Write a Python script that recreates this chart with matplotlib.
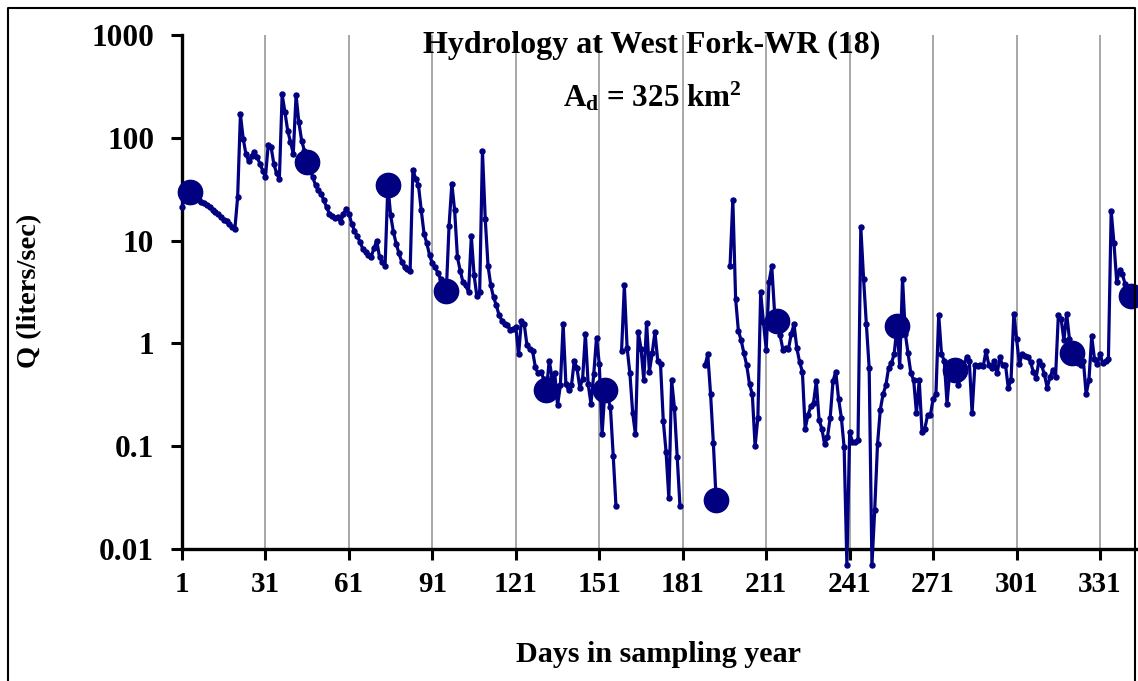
import numpy as np
import matplotlib
matplotlib.use('Agg')
import matplotlib.pyplot as plt
from matplotlib.ticker import FixedLocator, NullLocator, FixedFormatter
from matplotlib.lines import Line2D

plt.rcParams['font.family'] = ['Liberation Serif', 'DejaVu Serif']
plt.rcParams['font.weight'] = 'bold'
plt.rcParams['mathtext.fontset'] = 'custom'
plt.rcParams['mathtext.rm'] = 'Liberation Serif:bold'
plt.rcParams['mathtext.it'] = 'Liberation Serif:bold'
plt.rcParams['mathtext.bf'] = 'Liberation Serif:bold'

nan = np.nan

# daily discharge (liters/sec), days 1..342
q = [21, 27, 30, 30, 27, 26, 25, 24, 23, 22,
     21, 20, 19, 18, 17, 16, 15.5, 14.5, 13.5, 13,
     26.5, 169, 98, 69, 59, 67, 72, 65, 56, 48,
     41.5, 86, 82, 56, 45, 40, 264, 178, 117, 91,
     70, 260, 142, 94, 75, 58, 48, 41.5, 34.5, 31,
     28.5, 24.6, 21, 18.3, 17.5, 16.7, 16.9, 15.1, 18, 20.4,
     18.3, 14.6, 12.5, 11, 9.7, 8.3, 7.7, 7.2, 7.0, 8.4,
     10.0, 6.9, 6.2, 5.7, 34.5, 17.6, 12.1, 9.3, 7.5, 6.2,
     5.5, 5.3, 5.1, 49, 40, 34.5, 19.7, 11.7, 9.4, 7.2,
     6.0, 5.5, 4.8, 4.2, 3.6, 3.2, 14, 35.8, 19.7, 6.9,
     5.1, 3.95, 3.66, 3.15, 11, 4.6, 2.86, 3.15, 74, 16.3,
     5.7, 3.66, 2.8, 2.34, 1.87, 1.67, 1.55, 1.5, 1.36, 1.38,
     1.44, 0.78, 1.67, 1.55, 0.96, 0.89, 0.85, 0.59, 0.51, 0.53,
     0.45, 0.35, 0.68, 0.47, 0.51, 0.25, 0.39, 1.53, 0.4, 0.35,
     0.39, 0.68, 0.57, 0.37, 0.45, 1.24, 0.4, 0.26, 0.5, 1.14,
     0.63, 0.13, 0.35, 0.3, 0.24, 0.081, 0.026, nan, 0.84, 3.66,
     0.9, 0.51, 0.21, 0.13, 1.29, 0.89, 0.44, 1.59, 0.53, 0.8,
     1.29, 0.68, 0.63, 0.176, 0.088, 0.031, 0.44, 0.237, 0.078, 0.026,
     nan, nan, nan, nan, nan, nan, nan, nan, 0.61, 0.78,
     0.32, 0.107, 0.03, nan, nan, nan, nan, 5.7, 25, 2.72,
     1.32, 1.07, 0.8, 0.61, 0.4, 0.32, 0.1, 0.19, 3.15, 1.6,
     0.87, 3.95, 5.6, 2.0, 1.65, 1.2, 0.87, 0.9, 0.88, 1.24,
     1.53, 0.9, 0.66, 0.53, 0.148, 0.2, 0.244, 0.263, 0.43, 0.18,
     0.148, 0.104, 0.122, 0.19, 0.43, 0.53, 0.29, 0.19, 0.098, 0.007,
     0.137, 0.11, 0.11, 0.115, 13.5, 4.26, 1.53, 0.58, 0.007, 0.024,
     0.104, 0.226, 0.32, 0.39, 0.58, 0.64, 0.79, 1.47, 0.6, 4.26,
     1.24, 0.8, 0.51, 0.44, 0.21, 0.44, 0.137, 0.148, 0.2, 0.2,
     0.29, 0.32, 1.91, 0.79, 0.68, 0.26, 0.55, 0.5, 0.55, 0.39,
     0.5, 0.6, 0.74, 0.67, 0.21, 0.61, 0.6, 0.62, 0.6, 0.84,
     0.62, 0.57, 0.68, 0.51, 0.73, 0.61, 0.62, 0.37, 0.44, 1.94,
     1.11, 0.63, 0.78, 0.75, 0.74, 0.66, 0.53, 0.46, 0.67, 0.61,
     0.5, 0.37, 0.47, 0.55, 0.47, 1.87, 1.74, 1.07, 1.94, 1.1,
     0.8, 0.7, 0.65, 0.62, 0.68, 0.32, 0.44, 1.17, 0.7, 0.63,
     0.79, 0.64, 0.67, 0.7, 19.4, 9.4, 3.95, 5.2, 4.7, 3.8,
     3.2, 2.86]
days = np.arange(1, len(q) + 1)

# sampling dates
sample_days = [4, 46, 75, 96, 132, 153, 193, 215, 258, 279, 321, 342]
sample_q = [30, 58, 34.5, 3.2, 0.35, 0.35, 0.03, 1.65, 1.47, 0.55, 0.8, 2.86]

xticks = [1, 31, 61, 91, 121, 151, 181, 211, 241, 271, 301, 331]
yticks = [0.01, 0.1, 1, 10, 100, 1000]
ylabels = ['0.01', '0.1', '1', '10', '100', '1000']

W, H = 1138, 681
fig = plt.figure(figsize=(W / 100, H / 100), dpi=100)
ax = fig.add_axes([182 / W, 1 - 549 / H, 1 - 182 / W, (549 - 35) / H])

navy = '#000080'
ax.plot(days, q, color=navy, lw=2.3, marker='o', ms=3.6, clip_on=False, zorder=3)
ax.plot(sample_days, sample_q, 'o', color=navy, ms=17.5, clip_on=False, zorder=4)

ax.set_yscale('log')
ax.set_ylim(0.01, 1000)
ax.set_xlim(1, 1 + (W - 182) / 2.782)

ax.yaxis.set_major_locator(FixedLocator(yticks))
ax.yaxis.set_major_formatter(FixedFormatter(ylabels))
ax.yaxis.set_minor_locator(NullLocator())
ax.set_xticks(xticks)
for x in xticks[1:]:
    ax.axvline(x, color='#a0a0a0', lw=1.3, zorder=1)

for s in ['top', 'right']:
    ax.spines[s].set_visible(False)
for s in ['left', 'bottom']:
    ax.spines[s].set_linewidth(2.4)
ax.tick_params(axis='both', direction='out', length=8, width=2.2)
ax.tick_params(axis='y', pad=12, labelsize=22.5)
ax.tick_params(axis='x', pad=8, labelsize=21)
for lab in ax.get_xticklabels() + ax.get_yticklabels():
    lab.set_fontweight('bold')

fig.text(30 / W, 1 - 291 / H, 'Q (liters/sec)', rotation=90, ha='center', va='center',
         fontsize=20.5, fontweight='bold')
fig.text(658 / W, 1 - 655 / H, 'Days in sampling year', ha='center', va='center',
         fontsize=21.7, fontweight='bold')
fig.text(652 / W, 1 - 45 / H, 'Hydrology at West Fork-WR (18)', ha='center', va='center',
         fontsize=23, fontweight='bold')
fig.text(652 / W, 1 - 97 / H, r'A$_\mathrm{d}$ = 325 km$^\mathrm{2}$', ha='center', va='center',
         fontsize=22.4, fontweight='bold')

# outer chart border
bx = [8 / W, 8 / W, 1135 / W, 1135 / W]
by = [0, 1 - 8 / H, 1 - 8 / H, 0]
fig.add_artist(Line2D(bx, by, color='black', lw=1.5, transform=fig.transFigure))

fig.savefig('out.png', dpi=100)
